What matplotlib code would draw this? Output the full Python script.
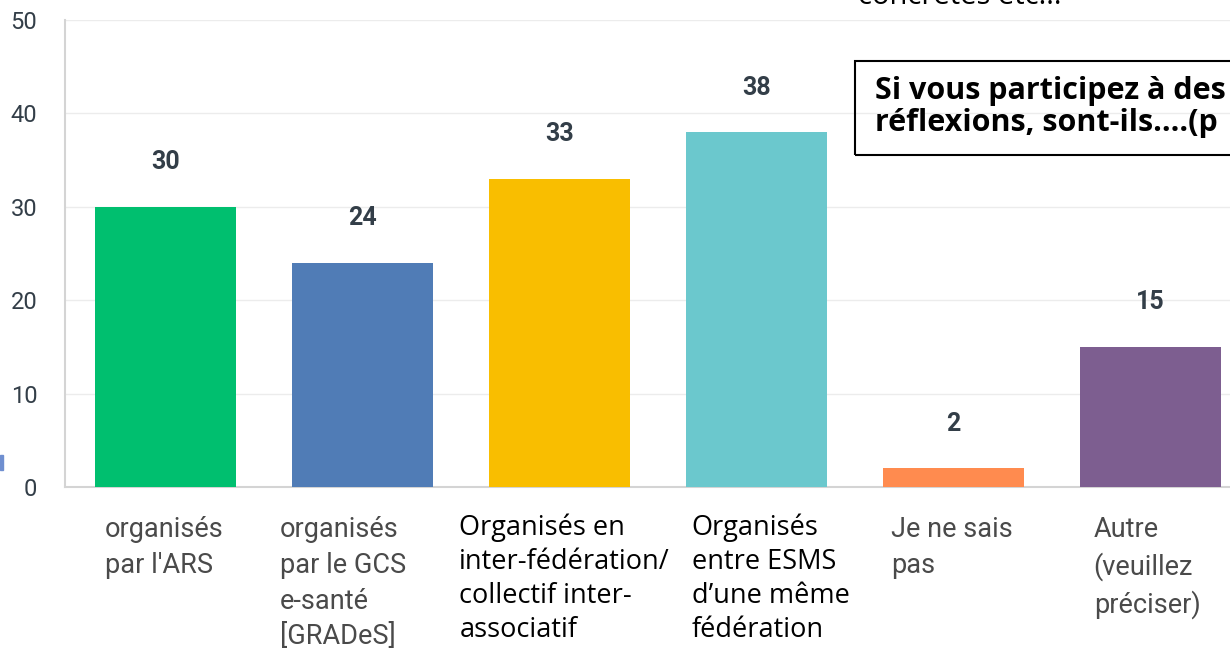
import matplotlib
matplotlib.use("Agg")
import matplotlib.pyplot as plt
from matplotlib.patches import Rectangle

# data
categories = [
    "organisés\npar l'ARS",
    "organisés\npar le GCS\ne-santé\n[GRADeS]",
    "Organisés en\ninter-fédération/\ncollectif inter-\nassociatif",
    "Organisés\nentre ESMS\nd\u2019une même\nfédération",
    "Je ne sais\npas",
    "Autre\n(veuillez\npréciser)",
]
values = [30, 24, 33, 38, 2, 15]
colors = ["#00BF6F", "#507CB6", "#F9BE00", "#6BC8CD", "#FF8B4F", "#7D5E90"]
yticks = [0, 10, 20, 30, 40, 50]
# which labels were pasted in Calibri-like black text
black_label = [False, False, True, True, False, False]
label_shift = [0.05, -0.06, -0.15, 0.03, 0.04, 0.07]  # left offset vs bar edge

W, H = 1230, 656
fig = plt.figure(figsize=(W / 100, H / 100), dpi=100)
ax = fig.add_axes([65 / W, 169 / H, (W - 65) / W, 467 / H])

x = list(range(len(values)))
bw = 0.716
ax.bar(x, values, width=bw, color=colors, zorder=3)
ax.set_ylim(0, 50)
ax.set_xlim(-0.51, 5.404)
ax.set_yticks(yticks)
ax.set_yticklabels([str(t) for t in yticks], fontsize=17, color="#333e48",
                   family="Roboto")
ax.tick_params(axis="y", length=0, pad=20)
ax.set_xticks([])
ax.grid(axis="y", color="#ececec", lw=1, zorder=0)
for s in ["top", "right"]:
    ax.spines[s].set_visible(False)
ax.spines["left"].set_color("#d4d4d4")
ax.spines["bottom"].set_color("#d4d4d4")
ax.spines["left"].set_linewidth(1.5)
ax.spines["bottom"].set_linewidth(1.5)

# value labels
for xi, v in zip(x, values):
    ax.annotate(str(v), (xi, v), xytext=(0, 32), textcoords="offset points",
                ha="center", va="center", fontsize=18, fontweight="bold",
                color="#333e48", family="Roboto")

# category labels under the bars
for xi, lab, blk, sh in zip(x, categories, black_label, label_shift):
    xd = xi - bw / 2 + sh
    xf = fig.transFigure.inverted().transform(ax.transData.transform((xd, 0)))[0]
    if blk:
        fig.text(xf, 1 - 514 / H, lab, ha="left", va="top", fontsize=19.5,
                 color="black", family="Open Sans", linespacing=1.28)
    else:
        fig.text(xf, 1 - 516 / H, lab, ha="left", va="top", fontsize=19.5,
                 color="#4a4a4a", family="Roboto", linespacing=1.42)

# boxed question text, cut by the right edge
fig.patches.append(Rectangle((855 / W, 1 - 155 / H), 400 / W, 94 / H,
                             transform=fig.transFigure, fill=False,
                             edgecolor="black", lw=1.5))
fig.text(875 / W, 1 - 107 / H, "Si vous participez à des\nréflexions, sont-ils....(p",
         ha="left", va="center", fontsize=22, fontweight="bold",
         family="Open Sans", linespacing=1.12)

# text of the slide above, only its lower edge shows
fig.text(858 / W, 1 + 4 / H, "concrètes etc...", ha="left", va="center",
         fontsize=21, family="Open Sans")

# small blue mark at the left edge
fig.patches.append(Rectangle((0, 1 - 470 / H), 3 / W, 15 / H,
                             transform=fig.transFigure, color="#6f8fd0"))

fig.savefig("out.png", dpi=100)
